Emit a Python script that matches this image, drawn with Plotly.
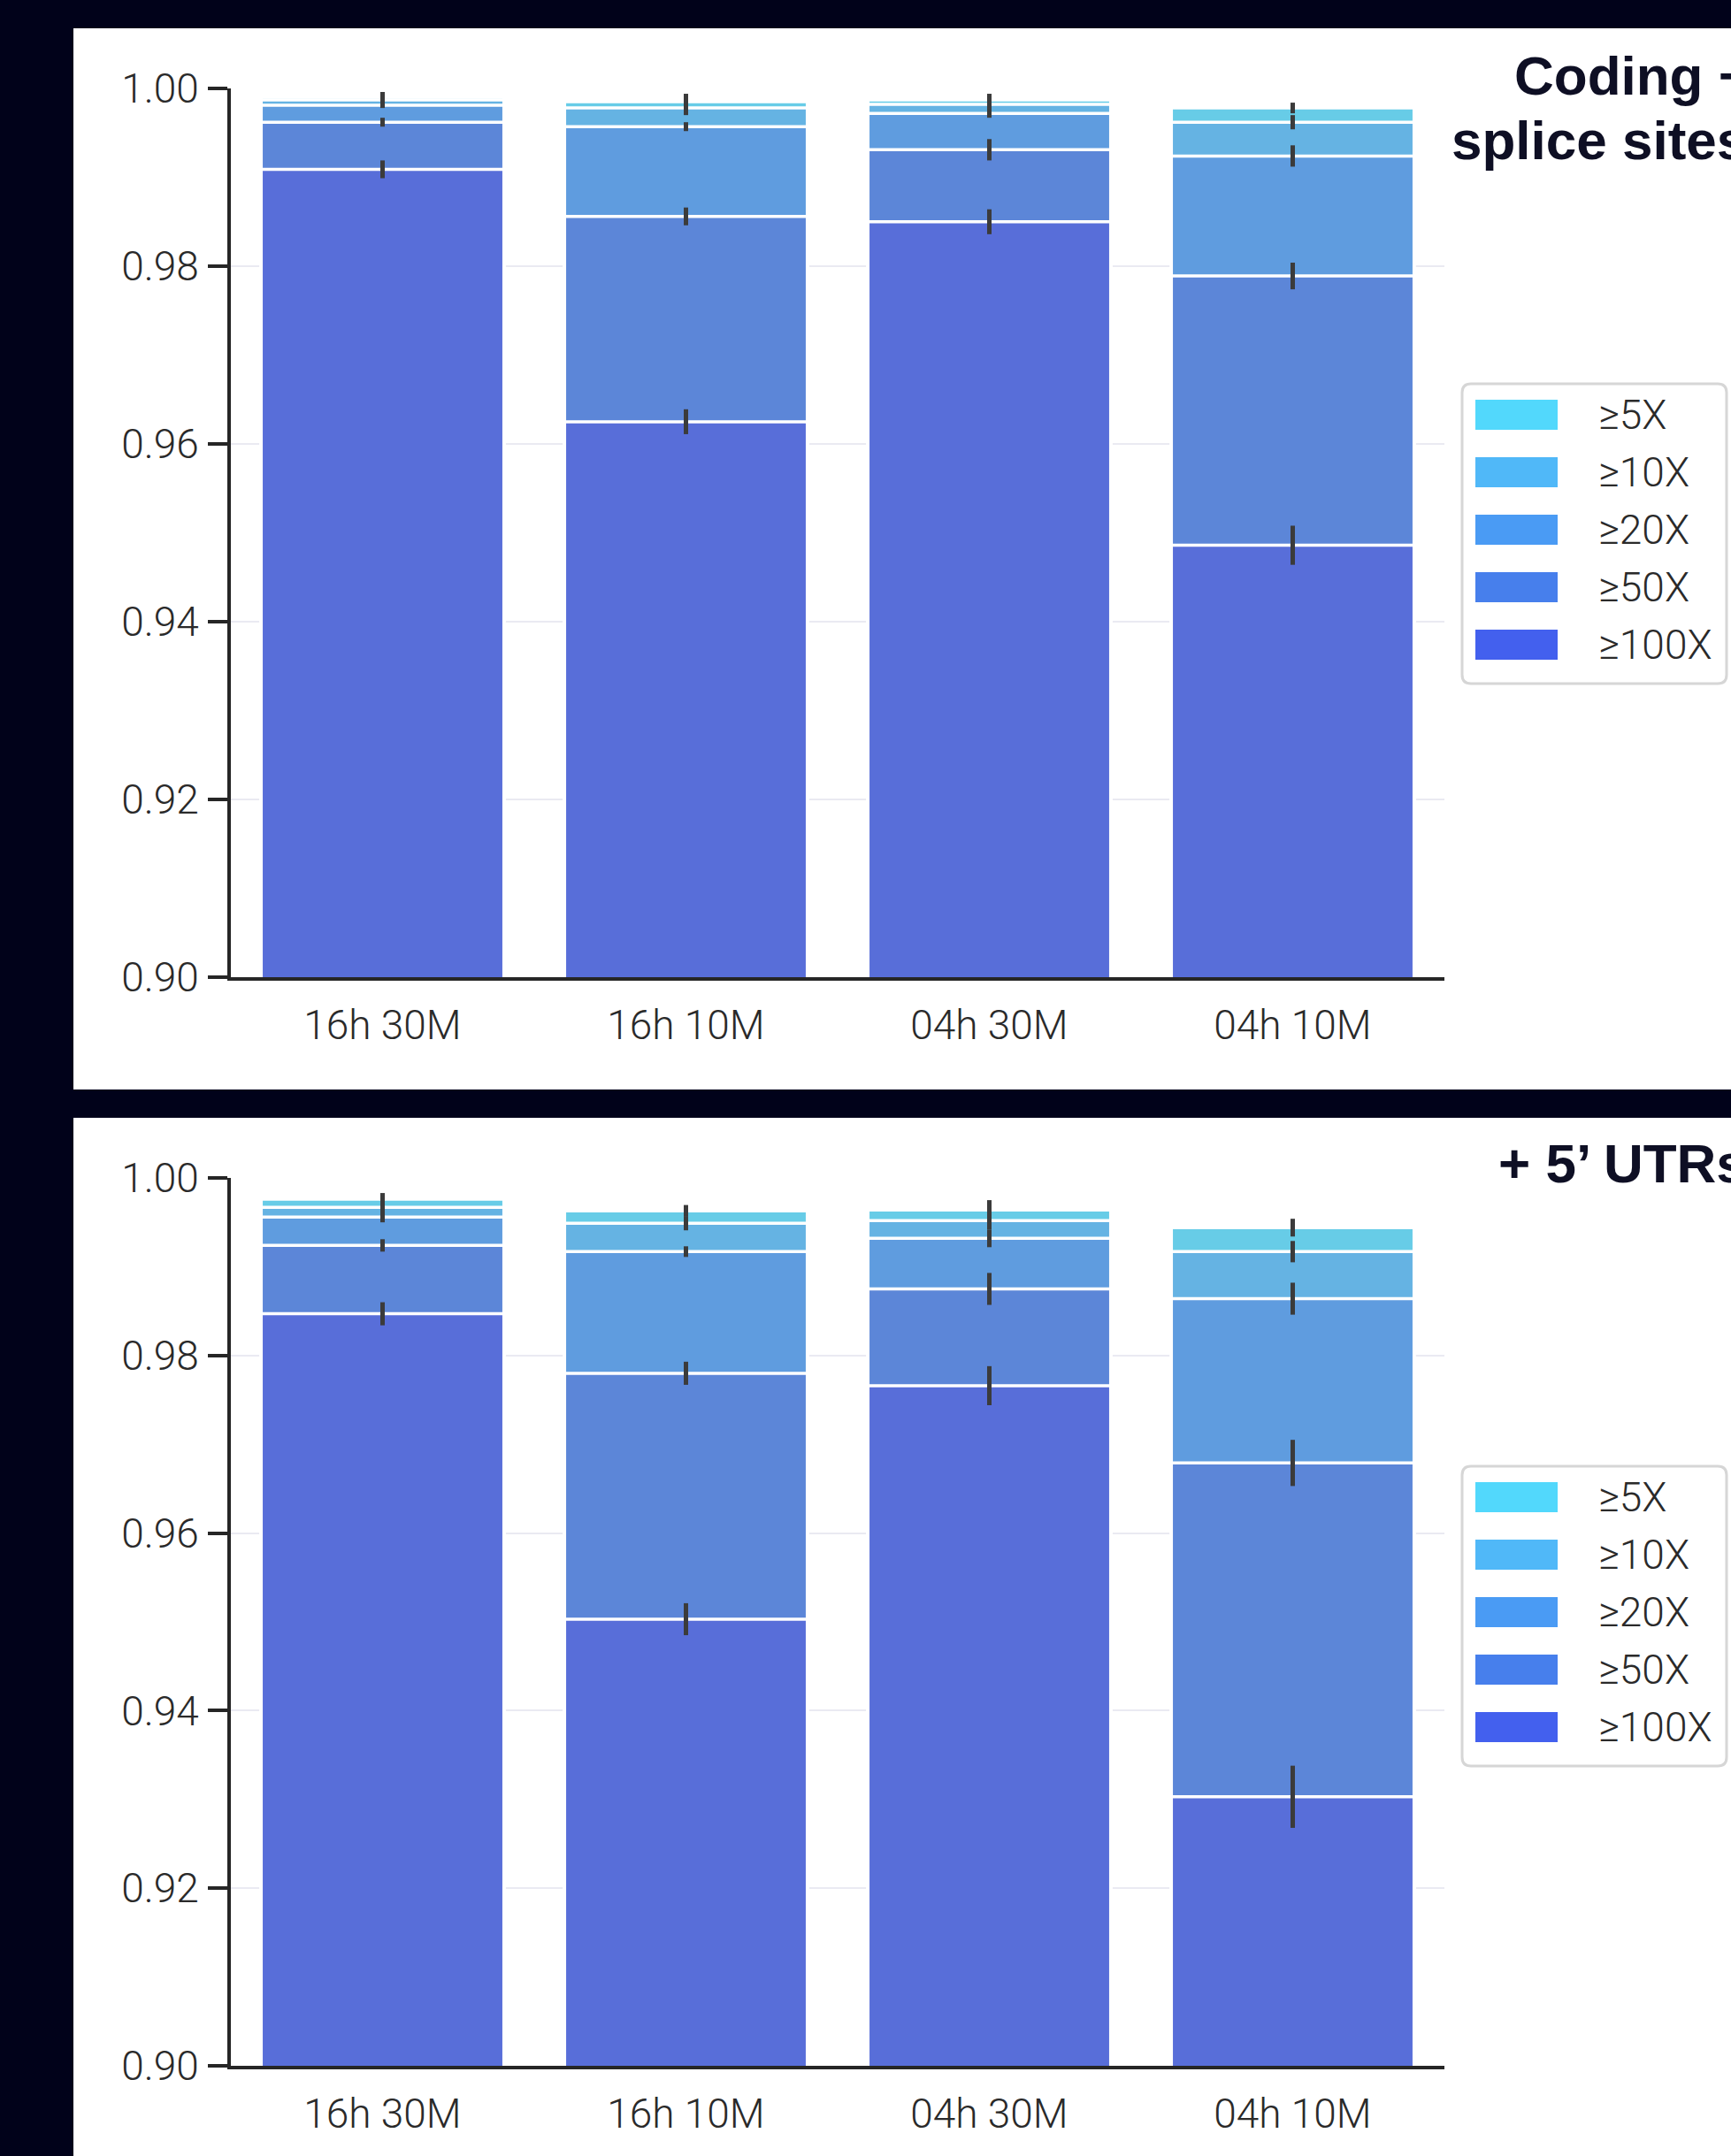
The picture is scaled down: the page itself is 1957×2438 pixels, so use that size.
import plotly.graph_objects as go

# Sequencing runs on the x axis
categories = ["16h 30M", "16h 10M", "04h 30M", "04h 10M"]
levels = ["≥5X", "≥10X", "≥20X", "≥50X", "≥100X"]

# Fraction of bases covered at each depth: coding + splice sites
coding_5x = [0.9990, 0.9985, 0.9987, 0.9978]
coding_10x = [0.9987, 0.9978, 0.9982, 0.9962]
coding_20x = [0.9981, 0.9957, 0.9972, 0.9924]
coding_50x = [0.9962, 0.9856, 0.9931, 0.9789]
coding_100x = [0.9909, 0.9625, 0.9850, 0.9486]

coding_err_5x = [0.0006, 0.0009, 0.0007, 0.0006]
coding_err_10x = [0.0007, 0.0008, 0.0008, 0.0008]
coding_err_20x = [0.0003, 0.0005, 0.0005, 0.0012]
coding_err_50x = [0.0005, 0.0010, 0.0012, 0.0015]
coding_err_100x = [0.0010, 0.0014, 0.0014, 0.0022]

# Fraction of bases covered at each depth: + 5' UTRs
utr_5x = [0.9976, 0.9963, 0.9964, 0.9944]
utr_10x = [0.9967, 0.9949, 0.9952, 0.9917]
utr_20x = [0.9956, 0.9917, 0.9932, 0.9864]
utr_50x = [0.9924, 0.9780, 0.9875, 0.9679]
utr_100x = [0.9847, 0.9503, 0.9766, 0.9303]

utr_err_5x = [0.0007, 0.00065, 0.0011, 0.0010]
utr_err_10x = [0.0010, 0.0008, 0.0010, 0.0012]
utr_err_20x = [0.0006, 0.0006, 0.0010, 0.0018]
utr_err_50x = [0.0007, 0.0013, 0.0018, 0.0026]
utr_err_100x = [0.0013, 0.0018, 0.0022, 0.0035]

panels = [
    ([coding_5x, coding_10x, coding_20x, coding_50x, coding_100x],
     [coding_err_5x, coding_err_10x, coding_err_20x, coding_err_50x, coding_err_100x]),
    ([utr_5x, utr_10x, utr_20x, utr_50x, utr_100x],
     [utr_err_5x, utr_err_10x, utr_err_20x, utr_err_50x, utr_err_100x]),
]

legend_colors = ["#52D8FC", "#50B8F8", "#4A9BF4", "#477FEC", "#4360EE"]
bar_colors = ["#67CCE7", "#65B3E3", "#5F9CDF", "#5C86D8", "#586ED9"]

W, H = 1957, 2438
BG = "#01021A"
INK = "#2A2A2A"
TITLE_INK = "#0E0F24"
TICK_FONT = dict(family="Roboto", size=46, color=INK, weight=300)


def fx(px):
    return px / W


def fy(py):
    return 1 - py / H


fig = go.Figure()

for p, (series, errors) in enumerate(panels):
    xa = "x" if p == 0 else "x2"
    ya = "y" if p == 0 else "y2"
    for name, vals, errs, col in zip(levels, series, errors, bar_colors):
        fig.add_trace(go.Bar(
            x=categories, y=vals, name=name, xaxis=xa, yaxis=ya,
            width=0.8, showlegend=False,
            marker=dict(color=col, line=dict(color="white", width=3.5)),
            error_y=dict(type="data", array=errs, visible=True,
                         color="#3B3B3B", thickness=5, width=0),
        ))

# Plot areas in pixels (top, bottom)
x_left, x_right = 261, 1633
areas = [(100, 1105), (1332, 2336)]

axis_common = dict(
    showline=True, linecolor="#262626", linewidth=4,
    tickfont=TICK_FONT, automargin=False,
)

layout = dict(
    width=W, height=H,
    margin=dict(l=0, r=0, t=0, b=0, autoexpand=False),
    paper_bgcolor=BG, plot_bgcolor="rgba(0,0,0,0)",
    barmode="overlay",
    showlegend=False,
)

for p, (top, bot) in enumerate(areas):
    sfx = "" if p == 0 else "2"
    layout["xaxis" + sfx] = dict(
        axis_common, domain=[fx(x_left), fx(x_right)],
        anchor="y" + sfx, type="category", range=[-0.5, 3.5],
        ticks="", showgrid=False, ticklabelstandoff=11,
    )
    layout["yaxis" + sfx] = dict(
        axis_common, domain=[fy(bot), fy(top)],
        anchor="x" + sfx, range=[0.9, 1.0],
        tickvals=[0.90, 0.92, 0.94, 0.96, 0.98, 1.00], tickformat=".2f",
        ticks="outside", ticklen=22, tickwidth=4, tickcolor="#262626",
        showgrid=True, gridcolor="#EAEAF2", gridwidth=2,
        zeroline=False, ticklabelstandoff=1,
    )

fig.update_layout(**layout)

shapes = []
annotations = []

# White panels on the dark page
for y0, y1 in [(32, 1232), (1264, H + 5)]:
    shapes.append(dict(type="rect", xref="paper", yref="paper", layer="below",
                       x0=fx(83), x1=fx(W + 5), y0=fy(y1), y1=fy(y0),
                       fillcolor="white", line=dict(width=0)))


def rounded_box(x0, y0, x1, y1, r):
    pts = [
        f"M {fx(x0 + r)},{fy(y0)}",
        f"L {fx(x1 - r)},{fy(y0)}",
        f"Q {fx(x1)},{fy(y0)} {fx(x1)},{fy(y0 + r)}",
        f"L {fx(x1)},{fy(y1 - r)}",
        f"Q {fx(x1)},{fy(y1)} {fx(x1 - r)},{fy(y1)}",
        f"L {fx(x0 + r)},{fy(y1)}",
        f"Q {fx(x0)},{fy(y1)} {fx(x0)},{fy(y1 - r)}",
        f"L {fx(x0)},{fy(y0 + r)}",
        f"Q {fx(x0)},{fy(y0)} {fx(x0 + r)},{fy(y0)}",
        "Z",
    ]
    return " ".join(pts)


# Legends for both panels
for box_top in [434, 1658]:
    shapes.append(dict(type="path", xref="paper", yref="paper",
                       path=rounded_box(1653, box_top, 1952, box_top + 339, 10),
                       fillcolor="white", line=dict(color="#D6D6D6", width=3)))
    for i, (lab, col) in enumerate(zip(levels, legend_colors)):
        cy = box_top + 35 + i * 65
        shapes.append(dict(type="rect", xref="paper", yref="paper",
                           x0=fx(1668), x1=fx(1761), y0=fy(cy + 17), y1=fy(cy - 17),
                           fillcolor=col, line=dict(width=0)))
        annotations.append(dict(xref="paper", yref="paper", x=fx(1805), y=fy(cy),
                                xanchor="left", yanchor="middle", showarrow=False,
                                text=lab, font=TICK_FONT))

# Panel titles
title_font = dict(family="Liberation Sans, Arial", size=62, color=TITLE_INK)
for text, x0, ymid in [("<b>Coding +</b>", 1710, 85),
                       ("<b>splice sites</b>", 1639, 158),
                       ("<b>+ 5’ UTRs</b>", 1692, 1316)]:
    annotations.append(dict(xref="paper", yref="paper", x=fx(x0), y=fy(ymid),
                            xanchor="left", yanchor="middle", showarrow=False,
                            text=text, font=title_font))

fig.update_layout(shapes=shapes, annotations=annotations)

fig.write_html("out.html")
